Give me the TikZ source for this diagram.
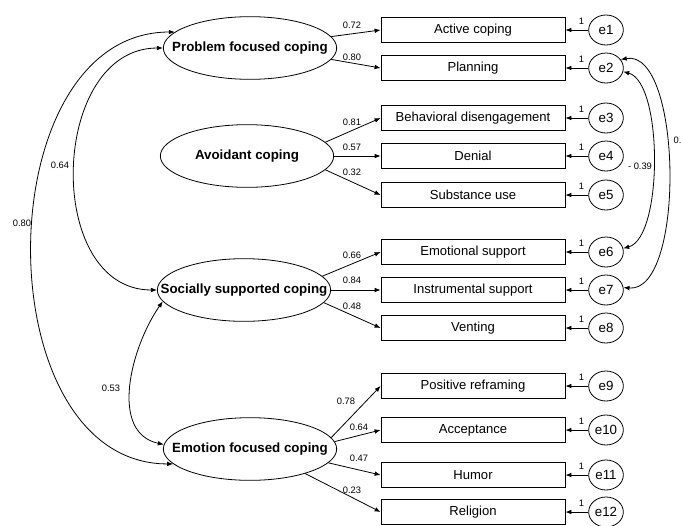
\documentclass[tikz,border=0pt]{standalone}
\usepackage{fontspec}
\setmainfont{Liberation Sans}
\usetikzlibrary{arrows.meta,shapes.geometric}
\tikzset{
    latent/.style={ellipse, draw, line width=0.6pt, minimum width=130pt, minimum height=47pt, inner sep=0pt, font=\fontsize{10}{12}\selectfont\bfseries}, % latent factors
    item/.style={rectangle, draw, line width=0.6pt, minimum width=138pt, minimum height=19pt, inner sep=0pt, font=\fontsize{9.8}{12}\selectfont},
    err/.style={ellipse, draw, line width=0.6pt, minimum width=26pt, minimum height=22.5pt, inner sep=0pt, font=\fontsize{10}{12}\selectfont},
    num/.style={inner sep=1pt, font=\fontsize{7}{8}\selectfont},
    load/.style={line width=0.6pt, -{Latex[length=4.5pt,width=3.5pt]}},
    cov/.style={line width=0.6pt, {Latex[length=4.5pt,width=3.5pt]}-{Latex[length=4.5pt,width=3.5pt]}}
}
\newcommand{\lv}[1]{\makebox[0pt]{#1}}

\begin{document}
\begin{tikzpicture}[x=0.75pt, y=-0.75pt]
    \useasboundingbox (0,0) rectangle (681,525);

    \node[latent] (pfc) at (250,48) {\lv{Problem focused coping}};
    \node[latent] (avc) at (247,156) {\lv{Avoidant coping}};
    \node[latent] (ssc) at (244,290) {\lv{Socially supported coping}};
    \node[latent] (efc) at (250,449) {\lv{Emotion focused coping}};

    % observed items with their error terms
    \foreach \nm / \yy / \txt / \en in {
        ac/30/Active coping/e1,
        pl/68/Planning/e2,
        bd/118/Behavioral disengagement/e3,
        de/156/Denial/e4,
        su/195/Substance use/e5,
        es/252/Emotional support/e6,
        is/290/Instrumental support/e7,
        ve/328/Venting/e8,
        pr/386/Positive reframing/e9,
        ap/430/Acceptance/e10,
        hu/475/Humor/e11,
        re/512/Religion/e12
    } {
        \node[item] (\nm) at (473,\yy) {\txt};
        \node[err] (\en) at (606,\yy) {\en};
        \draw[load] (\en) -- (\nm) node[num, pos=0.3, above=3pt] (w\en) {1};
    }

    % factor loadings
    \foreach \from / \to / \lx / \ly / \val in {
        pfc.8/ac/352/25/0.72,
        pfc.352/pl/352/57/0.80,
        avc.10/bd/352/122/0.81,
        avc.0/de/352/147/0.57,
        avc.350/su/352/172/0.32,
        ssc.10/es/352/255/0.66,
        ssc.0/is/352/280/0.84,
        ssc.351/ve/352/306/0.48,
        efc.8/pr/346/401/0.78,
        efc.5/ap/359/427/0.64,
        efc.350/hu/359/458/0.47,
        efc.336/re/352/490/0.23
    } {
        \draw[load] (\from) -- (\to.west);
        \node[num] (v\to) at (\lx,\ly) {\val};
    }

    % covariances
    \draw[cov] (pfc.180) to[out=180, in=180, looseness=1.2] (ssc.180);
    \node[num] (c1) at (60,165) {0.64};
    \draw[cov] (pfc.168) to[out=180, in=180, looseness=1.12] (efc.191);
    \node[num] (c2) at (22,223) {0.80};
    \draw[cov] (ssc.188) to[out=235, in=168] (efc.177);
    \node[num] (c3) at (111,388) {0.53};
    \draw[cov] (e2.348) to[out=-15, in=15, looseness=0.6] (e6.12);
    \node[num] (c4) at (640,166) {- 0.39};
    \draw[cov] (e2.30) to[out=10, in=-5, looseness=0.7] (e7.8);
    \node[num, anchor=west] (c5) at (672,140) {0.};
\end{tikzpicture}
\end{document}
